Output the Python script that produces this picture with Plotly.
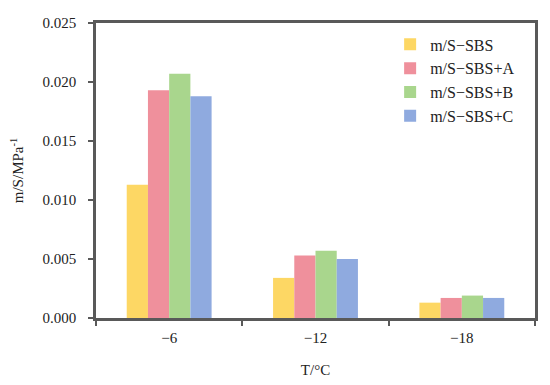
import plotly.graph_objects as go

categories = ["\u22126", "\u221212", "\u221218"]
series_names = ["m/S\u2212SBS", "m/S\u2212SBS+A", "m/S\u2212SBS+B", "m/S\u2212SBS+C"]
v_sbs = [0.0113, 0.0034, 0.0013]
v_a = [0.0193, 0.0053, 0.0017]
v_b = [0.0207, 0.0057, 0.0019]
v_c = [0.0188, 0.0050, 0.0017]
colors = ["#FDD764", "#EF909C", "#A9D68D", "#8FAADF"]

fig = go.Figure()
for name, vals, col in zip(series_names, [v_sbs, v_a, v_b, v_c], colors):
    fig.add_trace(go.Bar(x=categories, y=vals, name=name, marker=dict(color=col, line=dict(width=0))))

font = "Liberation Serif, Times New Roman, serif"
axcol = "#595959"
fig.update_layout(
    width=550, height=385,
    margin=dict(l=88, r=23, t=7, b=75),
    paper_bgcolor="white", plot_bgcolor="white",
    barmode="group", bargap=0.42, bargroupgap=0,
    font=dict(family=font, size=15, color="#222"),
    legend=dict(x=0.67, y=0.985, xanchor="left", yanchor="top", bgcolor="rgba(0,0,0,0)",
                font=dict(family=font, size=16), itemwidth=30, tracegroupgap=2),
    xaxis=dict(showline=True, linecolor=axcol, linewidth=2.5, mirror=True,
               ticks="outside", tickson="boundaries", tickcolor=axcol, ticklen=5, tickwidth=2,
               tickfont=dict(size=15), ticklabelstandoff=4,
               title=dict(text="T/\u00b0C", standoff=20, font=dict(size=15)), showgrid=False),
    yaxis=dict(range=[0, 0.025], dtick=0.005, tickformat=".3f", showline=True, linecolor=axcol,
               linewidth=2.5, mirror=True, ticks="outside", tickcolor=axcol, ticklen=5, tickwidth=1.5,
               tickfont=dict(size=15), ticklabelstandoff=9,
               title=dict(text="m/S/MPa<sup>-1</sup>", standoff=16, font=dict(size=15)),
               showgrid=False, zeroline=False),
)
fig.write_html("out.html")
